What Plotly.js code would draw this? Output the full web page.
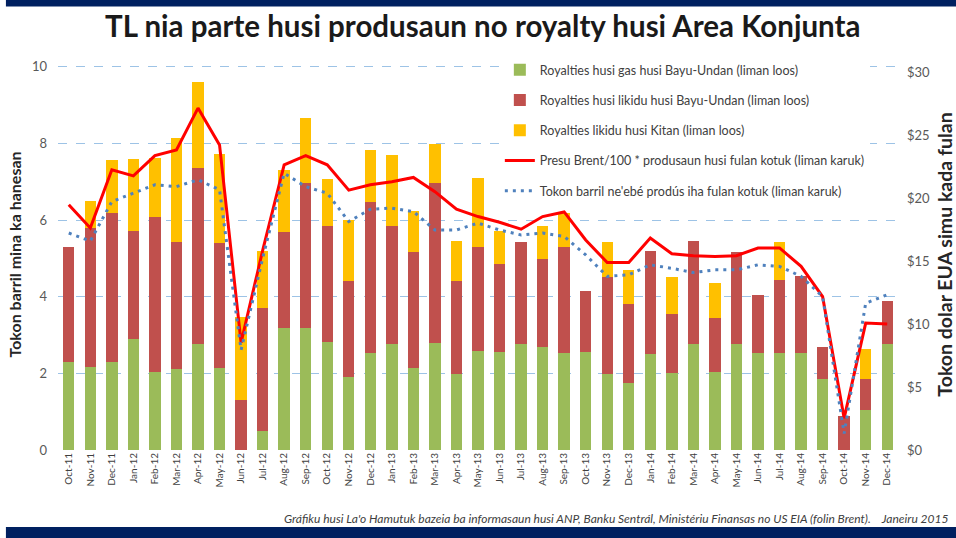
<!DOCTYPE html>
<html>
<head>
<meta charset="utf-8">
<script src="https://cdn.plot.ly/plotly-3.0.1.min.js"></script>
<style>html,body{margin:0;padding:0;background:#fff;}#chart{width:956px;height:538px;}</style>
</head>
<body>
<div id="chart"></div>
<script>
const months = ["Oct-11","Nov-11","Dec-11","Jan-12","Feb-12","Mar-12","Apr-12","May-12","Jun-12","Jul-12","Aug-12","Sep-12","Oct-12","Nov-12","Dec-12","Jan-13","Feb-13","Mar-13","Apr-13","May-13","Jun-13","Jul-13","Aug-13","Sep-13","Oct-13","Nov-13","Dec-13","Jan-14","Feb-14","Mar-14","Apr-14","May-14","Jun-14","Jul-14","Aug-14","Sep-14","Oct-14","Nov-14","Dec-14"];

// Royalties (US$ million, right axis)
const gasBayuUndan = [7.0,6.6,7.0,8.8,6.2,6.4,8.4,6.5,0,1.5,9.7,9.7,8.6,5.8,7.7,8.4,6.5,8.5,6.0,7.9,7.8,8.4,8.2,7.7,7.8,6.0,5.3,7.6,6.1,8.4,6.2,8.4,7.7,7.7,7.7,5.6,0,3.2,8.4];
const liquidBayuUndan = [9.1,11.0,11.8,8.6,12.3,10.1,14.0,9.9,4.0,9.8,7.6,11.5,9.2,7.6,12.0,9.4,9.2,12.7,7.4,8.2,7.0,8.1,7.0,8.4,4.8,7.7,6.3,8.2,4.7,8.2,4.3,7.3,4.6,5.8,6.1,2.6,2.7,2.4,3.4];
const liquidKitan = [0,2.2,4.2,5.7,4.7,8.3,6.8,7.1,6.6,4.5,4.9,5.2,3.7,4.9,4.1,5.6,3.3,3.1,3.2,5.5,2.6,0,2.6,2.7,0,2.8,2.7,0,2.9,0,2.8,0,0,3.0,0,0,0,2.4,0];

// Left axis (million barrels equivalent)
const brentTimesProd = [6.40,5.79,7.31,7.15,7.68,7.83,8.92,7.96,2.80,5.20,7.44,7.68,7.44,6.78,6.92,7.00,7.11,6.74,6.28,6.09,5.94,5.76,6.09,6.21,5.48,4.89,4.89,5.53,5.12,5.07,5.05,5.07,5.27,5.27,4.79,4.00,0.83,3.31,3.29];
const barrelsProduced = [5.66,5.45,6.48,6.70,6.92,6.87,7.05,6.79,2.61,5.00,7.22,6.87,6.70,5.96,6.28,6.31,6.22,5.74,5.74,5.92,5.74,5.61,5.66,5.57,5.09,4.53,4.57,4.83,4.74,4.63,4.70,4.70,4.83,4.79,4.53,4.00,0.43,3.83,4.05];

const leftTicks = [0,2,4,6,8,10];
const rightTicks = [0,5,10,15,20,25,30];
const rightTickText = ["$0","$5","$10","$15","$20","$25","$30"];

const names = [
  "Royalties husi gas husi Bayu-Undan (liman loos)",
  "Royalties husi likidu husi Bayu-Undan (liman loos)",
  "Royalties likidu husi Kitan (liman loos)",
  "Presu Brent/100 * produsaun husi fulan kotuk (liman karuk)",
  "Tokon barril ne'ebé prodús iha fulan kotuk (liman karuk)"
];

const FONT = "Lato, 'Open Sans', sans-serif";

const data = [
  {type:"bar", x:months, y:gasBayuUndan, name:names[0], marker:{color:"#9BBB59"}, yaxis:"y", legendgroup:"a"},
  {type:"bar", x:months, y:liquidBayuUndan, name:names[1], marker:{color:"#C0504D"}, yaxis:"y", legendgroup:"b"},
  {type:"bar", x:months, y:liquidKitan, name:names[2], marker:{color:"#FFC000"}, yaxis:"y", legendgroup:"c"},
  {type:"scatter", mode:"lines", x:months, y:brentTimesProd, name:names[3], line:{color:"#FF0000", width:3}, yaxis:"y2", legendgroup:"d"},
  {type:"scatter", mode:"lines", x:months, y:barrelsProduced, name:names[4], line:{color:"#4F81BD", width:3, dash:"3px,5px"}, yaxis:"y2", legendgroup:"e"}
];

const layout = {
  width:956, height:538,
  margin:{l:58, r:58, t:59, b:88},
  paper_bgcolor:"#fff", plot_bgcolor:"rgba(0,0,0,0)",
  font:{family:FONT, color:"#404040"},
  barmode:"stack", bargap:0.47,
  showlegend:true,
  title:{text:"<b>TL nia parte husi produsaun no royalty husi Area Konjunta</b>", font:{family:FONT, size:29.5, color:"#1a1a1a"}, x:0.505, xanchor:"center", y:0.95, yanchor:"middle", yref:"container"},
  xaxis:{type:"category", tickangle:-90, tickfont:{size:10, color:"#404040"}, showgrid:false, zeroline:false, showline:false, ticks:"", automargin:false},
  yaxis:{side:"right", range:[0,31.05], tickvals:rightTicks, ticktext:rightTickText, showgrid:false, zeroline:false, showline:false, ticks:"", ticklabelstandoff:8, tickfont:{size:13, color:"#595959"},
         title:{text:"<b>Tokon dolar EUA simu kada fulan</b>", font:{size:19.5, color:"#262626"}, standoff:12}, automargin:false},
  yaxis2:{side:"left", overlaying:"y", range:[0,10.2], tickvals:leftTicks, showgrid:true, gridcolor:"#9DC3E6", griddash:"dash", gridwidth:1, zeroline:true, zerolinecolor:"rgba(0,0,0,0)", showline:false, ticks:"", ticklabelstandoff:10, tickfont:{size:13, color:"#595959"},
          title:{text:"<b>Tokon barril mina ka hanesan</b>", font:{size:16, color:"#262626"}, standoff:6}, automargin:false},
  legend:{x:0.526, y:1.01, xanchor:"left", yanchor:"top", bgcolor:"#fff", borderwidth:0, font:{size:12.5, color:"#404040"}, tracegroupgap:11, traceorder:"grouped", itemwidth:30},
  shapes:[
    {type:"rect", xref:"paper", yref:"paper", x0:-0.062, x1:1.07, y0:1.134, y1:1.16, fillcolor:"#002060", line:{width:0}, layer:"above"},
    {type:"rect", xref:"paper", yref:"paper", x0:-0.062, x1:1.07, y0:-0.23, y1:-0.197, fillcolor:"#002060", line:{width:0}, layer:"above"}
  ],
  annotations:[
    {text:"<i>Gráfiku husi La'o Hamutuk bazeia ba informasaun husi ANP, Banku Sentrál, Ministériu Finansas no US EIA (folin Brent).    Janeiru 2015</i>", xref:"paper", yref:"paper", x:1.062, y:-0.174, xanchor:"right", yanchor:"middle", showarrow:false, font:{size:12, color:"#404040"}}
  ]
};

Plotly.newPlot("chart", data, layout, {staticPlot:true, displayModeBar:false});
</script>
</body>
</html>
